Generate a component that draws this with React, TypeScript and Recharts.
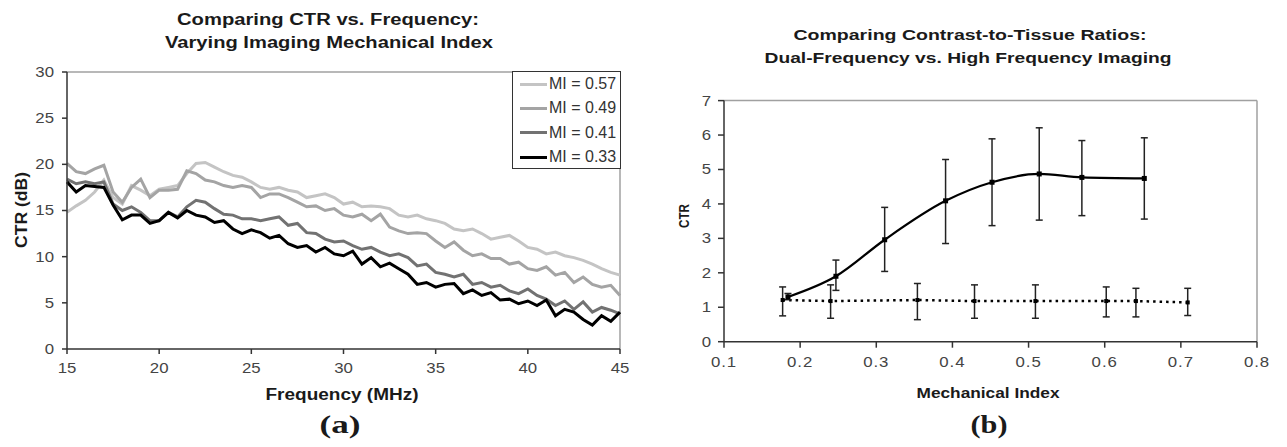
import React from 'react';
import { LineChart, Line, XAxis, YAxis, ReferenceLine, Legend, ErrorBar } from 'recharts';

// ---------- Chart (a): CTR vs Frequency ----------
const freq = [15, 15.5, 16, 16.5, 17, 17.5, 18, 18.5, 19, 19.5, 20, 20.5, 21, 21.5, 22, 22.5, 23, 23.5, 24, 24.5, 25, 25.5, 26, 26.5, 27, 27.5, 28, 28.5, 29, 29.5, 30, 30.5, 31, 31.5, 32, 32.5, 33, 33.5, 34, 34.5, 35, 35.5, 36, 36.5, 37, 37.5, 38, 38.5, 39, 39.5, 40, 40.5, 41, 41.5, 42, 42.5, 43, 43.5, 44, 44.5, 45];
const mi057 = [14.8, 15.5, 16.1, 17.0, 18.3, 16.4, 15.7, 17.7, 17.2, 16.6, 17.3, 17.5, 17.7, 19.0, 20.1, 20.2, 19.7, 19.2, 18.8, 18.6, 18.1, 17.5, 17.3, 17.5, 17.2, 17.0, 16.4, 16.6, 16.8, 16.4, 15.7, 15.9, 15.4, 15.5, 15.4, 15.2, 14.5, 14.3, 14.5, 14.1, 13.9, 13.6, 13.0, 12.8, 13.0, 12.5, 11.9, 12.1, 12.3, 11.7, 11.0, 10.8, 10.3, 10.5, 10.1, 9.9, 9.6, 9.2, 8.7, 8.3, 8.0];
const mi049 = [20.1, 19.2, 19.0, 19.5, 19.9, 17.0, 15.9, 17.5, 18.4, 16.4, 17.2, 17.2, 17.3, 19.3, 19.0, 18.3, 18.1, 17.7, 17.5, 17.7, 17.5, 16.4, 16.8, 16.8, 16.4, 15.9, 15.4, 15.5, 15.0, 15.2, 14.5, 14.3, 14.6, 13.9, 14.6, 13.2, 12.8, 12.5, 12.6, 12.5, 11.7, 11.0, 11.6, 10.7, 10.1, 10.3, 9.8, 9.8, 9.2, 9.4, 8.7, 8.5, 8.9, 8.0, 8.3, 7.2, 7.8, 7.0, 6.7, 6.9, 5.8];
const mi041 = [18.4, 17.9, 18.1, 17.9, 18.1, 15.7, 15.0, 15.4, 14.8, 13.9, 13.9, 14.8, 14.3, 15.4, 16.1, 15.9, 15.2, 14.6, 14.5, 14.1, 14.1, 13.9, 14.1, 14.3, 13.4, 13.6, 12.6, 12.5, 11.9, 11.6, 11.7, 11.2, 10.8, 11.0, 10.5, 10.1, 10.3, 9.9, 9.0, 9.2, 8.3, 8.1, 7.8, 8.1, 7.0, 7.2, 6.7, 6.9, 6.3, 6.0, 6.5, 5.8, 5.4, 4.7, 5.2, 4.3, 5.1, 4.0, 4.5, 4.2, 3.8];
const mi033 = [18.1, 17.0, 17.7, 17.6, 17.5, 15.6, 14.0, 14.5, 14.5, 13.6, 13.9, 14.8, 14.2, 15.0, 14.5, 14.3, 13.7, 13.9, 13.0, 12.5, 12.9, 12.6, 12.0, 12.3, 11.4, 11.0, 11.2, 10.5, 11.0, 10.3, 10.1, 10.6, 9.2, 9.9, 8.9, 9.3, 8.7, 8.1, 7.0, 7.2, 6.7, 7.0, 7.1, 6.0, 6.4, 5.8, 6.1, 5.3, 5.4, 4.9, 5.2, 4.7, 5.3, 3.6, 4.3, 4.0, 3.2, 2.6, 3.6, 3.0, 4.0];
const freqTicks = [15, 20, 25, 30, 35, 40, 45];
const ctrTicks = [0, 5, 10, 15, 20, 25, 30];
const seriesA = [
  { key: 'mi057', name: 'MI = 0.57', color: '#c4c4c4' },
  { key: 'mi049', name: 'MI = 0.49', color: '#a4a4a4' },
  { key: 'mi041', name: 'MI = 0.41', color: '#727272' },
  { key: 'mi033', name: 'MI = 0.33', color: '#000000' },
];
const dataA = freq.map((f, i) => ({ f, mi057: mi057[i], mi049: mi049[i], mi041: mi041[i], mi033: mi033[i] }));

// ---------- Chart (b): CTR vs Mechanical Index ----------
const dualX = [0.184, 0.247, 0.311, 0.391, 0.452, 0.514, 0.570, 0.652];
const dualY = [1.30, 1.90, 2.96, 4.09, 4.63, 4.87, 4.77, 4.74];
const dualErrDown = [0.08, 0.41, 0.92, 1.24, 1.26, 1.34, 1.11, 1.18];
const dualErrUp = [0.10, 0.47, 0.94, 1.20, 1.26, 1.34, 1.07, 1.18];
const highX = [0.177, 0.240, 0.354, 0.429, 0.509, 0.602, 0.641, 0.709];
const highY = [1.21, 1.18, 1.21, 1.18, 1.18, 1.18, 1.18, 1.14];
const highErrDown = [0.46, 0.50, 0.57, 0.50, 0.50, 0.46, 0.46, 0.38];
const highErrUp = [0.38, 0.47, 0.48, 0.47, 0.47, 0.41, 0.37, 0.41];
const miTicks = [0.1, 0.2, 0.3, 0.4, 0.5, 0.6, 0.7, 0.8];
const ctrTicksB = [0, 1, 2, 3, 4, 5, 6, 7];
const dualData = dualX.map((x, i) => ({ x, y: dualY[i], err: [dualErrDown[i], dualErrUp[i]] }));
const highData = highX.map((x, i) => ({ x, y: highY[i], err: [highErrDown[i], highErrUp[i]] }));

const SANS = '"Liberation Sans", Arial, sans-serif';
const SERIF = '"Liberation Serif", "Times New Roman", serif';

function STick(props: any) {
  const { x, y, payload, anchor, fs, sx, dy, ls } = props;
  return (
    <g transform={`translate(${x},${y})`}>
      <text transform={`scale(${sx},1)`} x={0} y={0} dy={dy} textAnchor={anchor} fontSize={fs}
        fontFamily={SANS} fill="#444" letterSpacing={ls || 0}>{payload.value}</text>
    </g>
  );
}

function T(props: any) {
  const { x, y, len, size, children, serif, rotate } = props;
  return (
    <text x={x} y={y} textAnchor="middle" textLength={len} lengthAdjust="spacingAndGlyphs"
      fontSize={size} fontWeight="bold" fontFamily={serif ? SERIF : SANS} fill="#1a1a1a"
      transform={rotate ? `rotate(-90 ${x} ${y})` : undefined}>{children}</text>
  );
}

const renderLegend = (props: any) => {
  const payload = [...(props.payload || [])].sort(
    (a: any, b: any) => seriesA.findIndex((s) => s.name === a.value) - seriesA.findIndex((s) => s.name === b.value)
  );
  return (
    <div style={{ border: '1.5px solid #333', background: '#fff', width: 109, height: 98, boxSizing: 'border-box', paddingLeft: 7 }}>
      {payload.map((e: any) => (
        <div key={e.value} style={{ display: 'flex', alignItems: 'center', height: 24.3 }}>
          <span style={{ display: 'inline-block', width: 27, height: 3, background: e.color }} />
          <span style={{ fontSize: 16, fontFamily: SANS, color: '#333', marginLeft: 2, lineHeight: '16px' }}>{e.value}</span>
        </div>
      ))}
    </div>
  );
};

const squareDot = (size: number) => (p: any) => (
  <rect key={`d-${p.index}`} x={p.cx - size / 2} y={p.cy - size / 2} width={size} height={size} fill="#000" />
);

export default function App() {
  return (
    <div style={{ position: 'absolute', left: 0, top: 0, width: 1287, height: 447, background: '#fff', overflow: 'hidden' }}>
      <div style={{ position: 'absolute', left: 0, top: 0 }}>
        <LineChart width={640} height={447} data={dataA} margin={{ top: 72, right: 20, bottom: 68, left: 0 }}>
          <XAxis dataKey="f" type="number" domain={[15, 45]} ticks={freqTicks} interval={0}
            axisLine={{ stroke: '#333', strokeWidth: 1.5 }} tickLine={{ stroke: '#333', strokeWidth: 1.5 }}
            tickSize={5} tickMargin={9} height={30}
            tick={(p: any) => <STick {...p} anchor="middle" fs={14} sx={1.2} dy="0.71em" />} />
          <YAxis type="number" domain={[0, 30]} ticks={ctrTicks} interval={0} width={67}
            axisLine={{ stroke: '#333', strokeWidth: 1.5 }} tickLine={{ stroke: '#333', strokeWidth: 1.5 }}
            tickSize={5} tickMargin={8}
            tick={(p: any) => <STick {...p} anchor="end" fs={14} sx={1.2} dy="0.355em" />} />
          <ReferenceLine y={30} stroke="#a0a0a0" strokeWidth={1.5} />
          <ReferenceLine x={45} stroke="#a0a0a0" strokeWidth={1.5} />
          {seriesA.map((s) => (
            <Line key={s.key} dataKey={s.key} name={s.name} stroke={s.color} strokeWidth={3}
              dot={false} type="linear" isAnimationActive={false} />
          ))}
          <Legend layout="vertical" align="center" verticalAlign="middle" content={renderLegend}
            wrapperStyle={{ position: 'absolute', left: 512, top: 71, width: 109, height: 98 }} />
        </LineChart>
      </div>
      <div style={{ position: 'absolute', left: 640, top: 0 }}>
        <LineChart width={647} height={447} margin={{ top: 100.6, right: 30, bottom: 75.3, left: 0 }}>
          <XAxis dataKey="x" type="number" domain={[0.1, 0.8]} ticks={miTicks} interval={0}
            axisLine={{ stroke: '#333', strokeWidth: 1.5 }} tickLine={{ stroke: '#333', strokeWidth: 1.5 }}
            tickSize={6} tickMargin={9} height={30} allowDuplicatedCategory={false}
            tick={(p: any) => <STick {...p} anchor="middle" fs={14} sx={1.2} ls={0.8} dy="0.71em" />} />
          <YAxis type="number" domain={[0, 7]} ticks={ctrTicksB} interval={0} width={84}
            axisLine={{ stroke: '#333', strokeWidth: 1.5 }} tickLine={{ stroke: '#333', strokeWidth: 1.5 }}
            tickSize={6} tickMargin={7}
            tick={(p: any) => <STick {...p} anchor="end" fs={14} sx={1.2} dy="0.355em" />} />
          <ReferenceLine y={7} stroke="#a0a0a0" strokeWidth={1.5} />
          <ReferenceLine x={0.8} stroke="#a0a0a0" strokeWidth={1.5} />
          <Line data={highData} dataKey="y" name="High Frequency" stroke="#000" strokeWidth={2.5}
            strokeDasharray="2.5 4" type="linear" dot={squareDot(4)} isAnimationActive={false}>
            <ErrorBar dataKey="err" direction="y" width={3.5} stroke="#222" strokeWidth={1.5} isAnimationActive={false} />
          </Line>
          <Line data={dualData} dataKey="y" name="Dual-Frequency" stroke="#000" strokeWidth={2.2}
            type="monotone" dot={squareDot(5)} isAnimationActive={false}>
            <ErrorBar dataKey="err" direction="y" width={3.5} stroke="#222" strokeWidth={1.5} isAnimationActive={false} />
          </Line>
        </LineChart>
      </div>
      <svg width={1287} height={447} style={{ position: 'absolute', left: 0, top: 0, pointerEvents: 'none' }}>
        <T x={328} y={24.5} len={302} size={16}>Comparing CTR vs. Frequency:</T>
        <T x={329} y={48} len={328} size={16}>Varying Imaging Mechanical Index</T>
        <T x={27} y={210} len={76} size={16} rotate>CTR (dB)</T>
        <T x={342} y={400} len={153} size={16}>Frequency (MHz)</T>
        <T x={340} y={433} len={41} size={25} serif>(a)</T>
        <T x={970} y={40} len={353} size={15}>Comparing Contrast-to-Tissue Ratios:</T>
        <T x={968} y={62.7} len={407} size={15}>Dual-Frequency vs. High Frequency Imaging</T>
        <T x={689} y={216} len={24} size={14} rotate>CTR</T>
        <T x={988} y={398} len={143} size={14}>Mechanical Index</T>
        <T x={989} y={433} len={37} size={25} serif>(b)</T>
      </svg>
    </div>
  );
}
